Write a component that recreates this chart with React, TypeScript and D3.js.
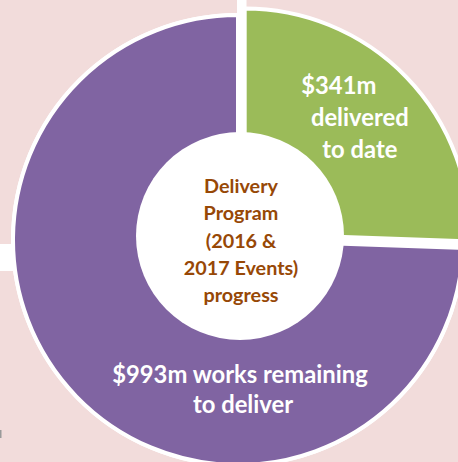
import * as d3 from 'd3';

// chart values
const categories = ['delivered', 'remaining'];
const values = [341, 993];
const sliceLabels = [
  ['$341m', 'delivered', 'to date'],
  ['$993m works remaining', 'to deliver'],
];
const centerLines = ['Delivery', 'Program', '(2016 &', '2017 Events)', 'progress'];

const W = 458;
const H = 462;
const cx = 238;
const cy = 240;
const R = 225;
const holeR = 104;
const explode = 9.3;
const FONT = 'Lato, "Open Sans", sans-serif';

export default function App() {
  const color = d3.scaleOrdinal<string, string>()
    .domain(categories)
    .range(['#9bbb59', '#8064a2']);

  const arcs = d3.pie<number>().sort(null).value(d => d)(values);
  const arc = d3.arc<d3.PieArcDatum<number>>().innerRadius(0).outerRadius(R);

  // only the first slice is pulled out
  const offset = (i: number) => {
    if (i !== 0) return [0, 0];
    const a = arcs[i];
    return d3.pointRadial((a.startAngle + a.endAngle) / 2, explode);
  };

  const greenMid = (arcs[0].startAngle + arcs[0].endAngle) / 2;
  const [gOx, gOy] = offset(0);
  const [glx, gly] = d3.pointRadial(greenMid, 160);
  const [plx, ply] = d3.pointRadial(Math.PI, 152);

  const holeCx = cx + 2;
  const holeCy = cy - 4;
  const centerLh = 27.3;
  const greenLh = 32;
  const purpleLh = 30;

  return (
    <svg
      width={W}
      height={H}
      style={{ position: 'absolute', left: 0, top: 0, display: 'block' }}
      fontFamily={FONT}
      fontWeight="bold"
    >
      <rect width={W} height={H} fill="#f2dcdb" />
      {/* white strips peeking out from behind the chart */}
      <rect x={cx - 1} y={0} width={9.5} height={40} fill="#fff" />
      <rect x={0} y={cy + 4} width={16} height={27} fill="#fff" />
      <rect x={0} y={430} width={1.5} height={8} fill="#9a9a9a" />

      <circle cx={cx} cy={cy} r={R + 2} fill="#fff" />
      <g transform={`translate(${cx},${cy})`}>
        {arcs.map((a, i) => {
          const [ox, oy] = offset(i);
          return (
            <path
              key={categories[i]}
              d={arc(a) ?? ''}
              transform={`translate(${ox},${oy})`}
              fill={color(categories[i])}
              stroke="#fff"
              strokeWidth={4}
            />
          );
        })}
      </g>

      <circle cx={holeCx} cy={holeCy} r={holeR} fill="#fff" />

      <g fill="#974806" fontSize={19.8} textAnchor="middle">
        {centerLines.map((t, i) => (
          <text key={t} x={holeCx + 1} y={holeCy + (i - (centerLines.length - 1) / 2) * centerLh + 11.5}>
            {t}
          </text>
        ))}
      </g>

      <g fill="#fff" fontSize={23.8} textAnchor="middle">
        {sliceLabels[0].map((t, i) => (
          <text
            key={t}
            x={cx + gOx + glx + (i === 0 ? -21 : 0)}
            y={cy + gOy + gly + (i - (sliceLabels[0].length - 1) / 2) * greenLh + 3.5}
          >
            {t}
          </text>
        ))}
        {sliceLabels[1].map((t, i) => (
          <text
            key={t}
            x={cx + plx + 2 + (i === 1 ? 3 : 0)}
            y={cy + ply + (i - (sliceLabels[1].length - 1) / 2) * purpleLh + 6}
          >
            {t}
          </text>
        ))}
      </g>
    </svg>
  );
}
